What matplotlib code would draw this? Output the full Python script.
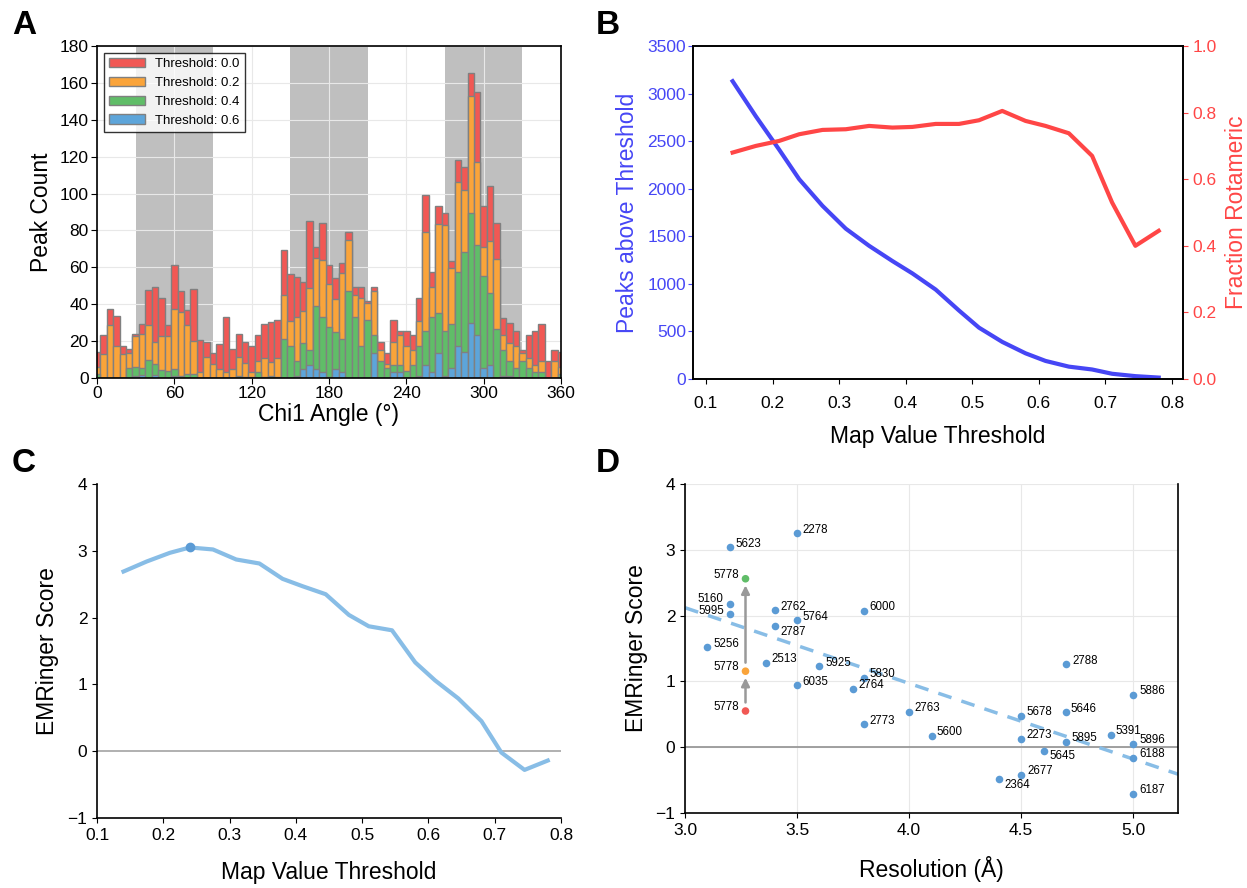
import numpy as np
import matplotlib
matplotlib.use("Agg")
import matplotlib.pyplot as plt

plt.rcParams['font.family'] = ['Liberation Sans', 'DejaVu Sans']

# ---------------- Panel A data ----------------
chi_bins = list(range(0, 361, 5))
count_t00 = [14, 23.5, 37.5, 33.5, 17.5, 15.5, 24, 29.5, 47.5, 49.5, 43.5, 28.5, 61.5,
             47, 37, 48, 20.5, 19.5, 13.5, 18.5, 33, 15.8, 24, 19.5, 17.5, 23.5, 29.3, 30.5,
             31.4, 69.4, 56.3, 54.5, 52.2, 85.3, 71.2, 84.3, 61.3, 54.3, 62.3, 79.3, 49.2,
             49.2, 41.5, 49.5, 19.3, 13.4, 31.4, 25.5, 25.5, 23.3, 43.6, 99.2, 57.3, 93.4,
             89.5, 63.4, 118.2, 114.2, 165.2, 155.3, 93.4, 104.3, 84.2, 32.4, 30, 25.5, 15.2,
             23.3, 25.5, 29.3, 9.2, 15.2, 14]
count_t02 = [6, 13, 29, 17.5, 13, 13.5, 23, 23.7, 29, 19.5, 23, 22.5, 37.5,
             36, 29, 20, 3.5, 11.5, 7.5, 5, 3.3, 5, 11.2, 8, 3, 9, 11, 8.5,
             11, 45, 31, 33.3, 36.3, 49, 65.2, 64, 51.2, 43, 57, 75, 45.2,
             43.4, 40.5, 47.2, 15.2, 7.4, 19.3, 23.3, 17.2, 15.2, 31, 79.3, 49.2, 83.3,
             83.2, 59.5, 106.1, 102, 153.1, 117.3, 71.2, 74.3, 64.3, 23.3, 19.2, 17.4, 13.4,
             11, 7, 9.2, 0, 9.2, 6]
count_t04 = [2, 0, 0, 0, 0, 5.5, 6, 5.5, 9.5, 7.7, 4.2, 4, 5,
             1, 2, 2, 0, 0, 0, 0, 0, 0, 1, 0.5, 0.5, 3, 0.5, 1,
             0.7, 21.3, 17.3, 9.2, 19.2, 15.1, 39.3, 33.3, 27.4, 25.2, 21.3, 47.3, 33.3,
             17.4, 31.4, 23.3, 9, 5.2, 7.2, 7.2, 3.6, 7.2, 17.4, 25.5, 33.3, 35,
             25.5, 29.3, 57.3, 68.1, 89.3, 72.1, 55.3, 46.3, 26.4, 15.2, 9.2, 5.2, 9.2,
             5.2, 3, 3, 0, 0, 2]
count_t06 = [0, 0, 0, 0, 0, 0, 1, 1.5, 0, 1.5, 0, 0, 1.3,
             0, 0, 0, 0, 0, 0, 0, 0, 0, 0, 0, 0, 0, 0, 0,
             0, 0, 0, 1, 5, 7.2, 5, 3, 0.5, 5, 3, 0, 0,
             0, 0, 13.4, 0, 0, 3, 3, 0, 0, 1.3, 7.2, 3, 13.4,
             1.3, 5.2, 17.4, 13.9, 30, 23.3, 5.2, 7, 0, 1.3, 1, 0, 0,
             0, 0, 0, 0, 0, 0]
threshold_labels = ["Threshold: 0.0", "Threshold: 0.2", "Threshold: 0.4", "Threshold: 0.6"]
rotamer_regions = [(30, 90), (150, 210), (270, 330)]

# ---------------- Panel B / C data ----------------
map_threshold = [0.14, 0.175, 0.21, 0.24, 0.275, 0.31, 0.345, 0.38, 0.41, 0.445,
                 0.48, 0.51, 0.545, 0.58, 0.61, 0.645, 0.68, 0.71, 0.745, 0.78]
peaks_above = [3130, 2760, 2410, 2100, 1820, 1580, 1400, 1240, 1110, 940,
               720, 540, 390, 270, 190, 130, 100, 55, 30, 15]
frac_rotameric = [0.68, 0.70, 0.715, 0.735, 0.748, 0.75, 0.76, 0.755, 0.757, 0.766,
                  0.766, 0.777, 0.805, 0.775, 0.76, 0.738, 0.67, 0.53, 0.40, 0.445]
emringer_score = [2.69, 2.84, 2.97, 3.05, 3.02, 2.87, 2.81, 2.58, 2.47, 2.35,
                  2.04, 1.87, 1.81, 1.33, 1.06, 0.79, 0.45, -0.02, -0.28, -0.14]
best_index = 3

# ---------------- Panel D data ----------------
emdb_ids = ["2278", "5623", "5160", "5995", "2762", "5764", "2787", "5256", "2513",
            "5925", "6000", "6035", "5830", "2764", "2773", "2788", "5886", "2763",
            "5678", "5646", "5600", "2273", "5895", "5391", "5896", "5645", "6188",
            "2677", "2364", "6187"]
resolution = [3.5, 3.2, 3.2, 3.2, 3.4, 3.5, 3.4, 3.1, 3.36,
              3.6, 3.8, 3.5, 3.8, 3.75, 3.8, 4.7, 5.0, 4.0,
              4.5, 4.7, 4.1, 4.5, 4.7, 4.9, 5.0, 4.6, 5.0,
              4.5, 4.4, 5.0]
scores = [3.25, 3.04, 2.17, 2.03, 2.08, 1.94, 1.84, 1.53, 1.28,
          1.23, 2.07, 0.95, 1.05, 0.89, 0.36, 1.26, 0.79, 0.53,
          0.48, 0.54, 0.17, 0.12, 0.08, 0.19, 0.05, -0.06, -0.17,
          -0.42, -0.48, -0.71]
refined_id = "5778"
refined_res = 3.27
refined_scores = [0.55, 1.155, 2.56]   # before, intermediate, after
trend_x = [3.0, 5.2]
trend_y = [2.12, -0.41]

# label offsets in pixels (dx, dy) and alignment
label_place = {
    "2278": (5, 3, 'left'), "5623": (6, 3, 'left'), "5160": (-6, 5, 'right'),
    "5995": (-6, 3, 'right'), "2762": (6, 3, 'left'), "5764": (5, 3, 'left'),
    "2787": (6, -6, 'left'), "5256": (6, 3, 'left'), "2513": (6, 4, 'left'),
    "5925": (6, 3, 'left'), "6000": (5, 4, 'left'), "6035": (5, 3, 'left'),
    "5830": (5, 4, 'left'), "2764": (5, 4, 'left'), "2773": (5, 3, 'left'),
    "2788": (6, 3, 'left'), "5886": (6, 4, 'left'), "2763": (5, 4, 'left'),
    "5678": (5, 4, 'left'), "5646": (5, 3, 'left'), "5600": (5, 4, 'left'),
    "2273": (5, 4, 'left'), "5895": (6, 4, 'left'), "5391": (5, 4, 'left'),
    "5896": (6, 4, 'left'), "5645": (6, -5, 'left'), "6188": (6, 4, 'left'),
    "2677": (6, 4, 'left'), "2364": (6, -6, 'left'), "6187": (6, 4, 'left'),
}

W, H = 1247, 888
fig = plt.figure(figsize=(W / 100, H / 100), dpi=100)


def ax_rect(l, t, r, b):
    return [l / W, 1 - b / H, (r - l) / W, (b - t) / H]


TICK_FS = 12.5
LABEL_FS = 16.5
grid_kw = dict(color='#e8e8e8', linewidth=0.8)

# ---------------- Panel A ----------------
axA = fig.add_axes(ax_rect(97, 46, 561, 378))
for lo, hi in rotamer_regions:
    axA.axvspan(lo, hi, color='#bfbfbf', zorder=0.5, lw=0)
bar_colors = ['#f15854', '#faa43a', '#60bd68', '#5da5da']
for vals, col, lab in zip([count_t00, count_t02, count_t04, count_t06], bar_colors, threshold_labels):
    axA.bar(chi_bins, vals, width=5, color=col, edgecolor='#808080', linewidth=1.0,
            label=lab, zorder=2)
axA.set_xlim(0, 360)
axA.set_ylim(0, 180)
axA.set_xticks(range(0, 361, 60))
axA.set_yticks(range(0, 181, 20))
axA.grid(True, zorder=0, **grid_kw)
axA.set_axisbelow(True)
axA.set_xlabel("Chi1 Angle (°)", fontsize=LABEL_FS, labelpad=1)
axA.set_ylabel("Peak Count", fontsize=LABEL_FS, labelpad=5)
axA.tick_params(labelsize=TICK_FS, direction='out', length=4, pad=2)
leg = axA.legend(loc='upper left', fontsize=9.5, frameon=True, fancybox=False,
                 edgecolor='black', borderaxespad=0.5, handlelength=2.7)
leg.get_frame().set_linewidth(1.0)
for sp in axA.spines.values():
    sp.set_linewidth(1.2)

# ---------------- Panel B ----------------
axB = fig.add_axes(ax_rect(693, 46, 1183, 379))
blue_c = '#4646f5'
red_c = '#ff4646'
axB.plot(map_threshold, peaks_above, color=blue_c, lw=3)
axB.set_xlim(0.0805, 0.8165)
axB.set_ylim(0, 3500)
axB.set_yticks(range(0, 3501, 500))
axB.set_xticks([0.1, 0.2, 0.3, 0.4, 0.5, 0.6, 0.7, 0.8])
axB.set_ylabel("Peaks above Threshold", color=blue_c, fontsize=LABEL_FS, labelpad=6)
axB.set_xlabel("Map Value Threshold", fontsize=LABEL_FS, labelpad=10)
axB.tick_params(axis='y', colors=blue_c, labelsize=TICK_FS, pad=1.5)
axB.tick_params(axis='x', labelsize=TICK_FS, pad=9)
axB2 = axB.twinx()
axB2.plot(map_threshold, frac_rotameric, color=red_c, lw=3)
axB2.set_ylim(0, 1.0)
axB2.set_yticks([0.0, 0.2, 0.4, 0.6, 0.8, 1.0])
axB2.set_ylabel("Fraction Rotameric", color=red_c, fontsize=LABEL_FS, labelpad=6)
axB2.tick_params(axis='y', colors=red_c, labelsize=TICK_FS)
for sp in list(axB.spines.values()) + list(axB2.spines.values()):
    sp.set_linewidth(1.2)
    sp.set_color('black')

# ---------------- Panel C ----------------
axC = fig.add_axes(ax_rect(97, 484, 561, 818))
line_c = '#88bde6'
axC.axhline(0, color='#aaaaaa', lw=1.3, zorder=1)
axC.plot(map_threshold, emringer_score, color=line_c, lw=3, zorder=2)
axC.plot([map_threshold[best_index]], [emringer_score[best_index]], 'o',
         color='#5b9bd5', ms=6, zorder=3)
axC.set_xlim(0.1, 0.8)
axC.set_ylim(-1, 4)
axC.set_xticks([0.1, 0.2, 0.3, 0.4, 0.5, 0.6, 0.7, 0.8])
axC.set_yticks([-1, 0, 1, 2, 3, 4])
axC.set_yticklabels(['\u22121', '0', '1', '2', '3', '4'])
axC.set_xlabel("Map Value Threshold", fontsize=LABEL_FS, labelpad=13)
axC.set_ylabel("EMRinger Score", fontsize=LABEL_FS, labelpad=6)
axC.tick_params(labelsize=TICK_FS)
axC.spines['top'].set_visible(False)
axC.spines['right'].set_visible(False)
for sp in axC.spines.values():
    sp.set_linewidth(1.2)

# ---------------- Panel D ----------------
axD = fig.add_axes(ax_rect(685, 484, 1178, 813))
pt_c = '#5b9bd5'
axD.axhline(0, color='#999999', lw=1.3, zorder=1)
axD.plot(trend_x, trend_y, '--', color='#88bde6', lw=2.5, dashes=(4, 3), zorder=2)
axD.scatter(resolution, scores, s=30, color=pt_c, zorder=3, linewidths=0)
for lab, xv, yv in zip(emdb_ids, resolution, scores):
    dx, dy, ha = label_place[lab]
    axD.annotate(lab, (xv, yv), xytext=(dx * 0.72, dy * 0.72), textcoords='offset points',
                 ha=ha, va='center', fontsize=8.3, zorder=4)
ref_colors = ['#f15854', '#faa43a', '#60bd68']
axD.scatter([refined_res] * 3, refined_scores, s=30, c=ref_colors, zorder=3, linewidths=0)
for yv in refined_scores:
    axD.annotate(refined_id, (refined_res, yv), xytext=(-6 * 0.72, 4 * 0.72),
                 textcoords='offset points', ha='right', va='center', fontsize=8.3)
for y0, y1 in zip(refined_scores[:-1], refined_scores[1:]):
    axD.annotate('', xy=(refined_res, y1 - 0.1), xytext=(refined_res, y0 + 0.13),
                 arrowprops=dict(arrowstyle='-|>', color='#999999', lw=1.8,
                                 mutation_scale=12, shrinkA=0, shrinkB=0))
axD.set_xlim(3.0, 5.2)
axD.set_ylim(-1, 4)
axD.set_xticks([3.0, 3.5, 4.0, 4.5, 5.0])
axD.set_yticks([-1, 0, 1, 2, 3, 4])
axD.set_yticklabels(['\u22121', '0', '1', '2', '3', '4'])
axD.set_xlabel("Resolution (Å)", fontsize=LABEL_FS, labelpad=13)
axD.set_ylabel("EMRinger Score", fontsize=LABEL_FS, labelpad=5)
axD.tick_params(labelsize=TICK_FS)
axD.grid(True, zorder=0, **grid_kw)
axD.set_axisbelow(True)
axD.spines['top'].set_visible(False)
for sp in axD.spines.values():
    sp.set_linewidth(1.2)

# panel letters
for letter, x, y in [("A", 12, 10), ("B", 596, 10), ("C", 12, 448), ("D", 596, 448)]:
    fig.text(x / W, 1 - y / H, letter, fontsize=24, fontweight='bold', va='top', ha='left')

fig.savefig("out.png", dpi=100)
